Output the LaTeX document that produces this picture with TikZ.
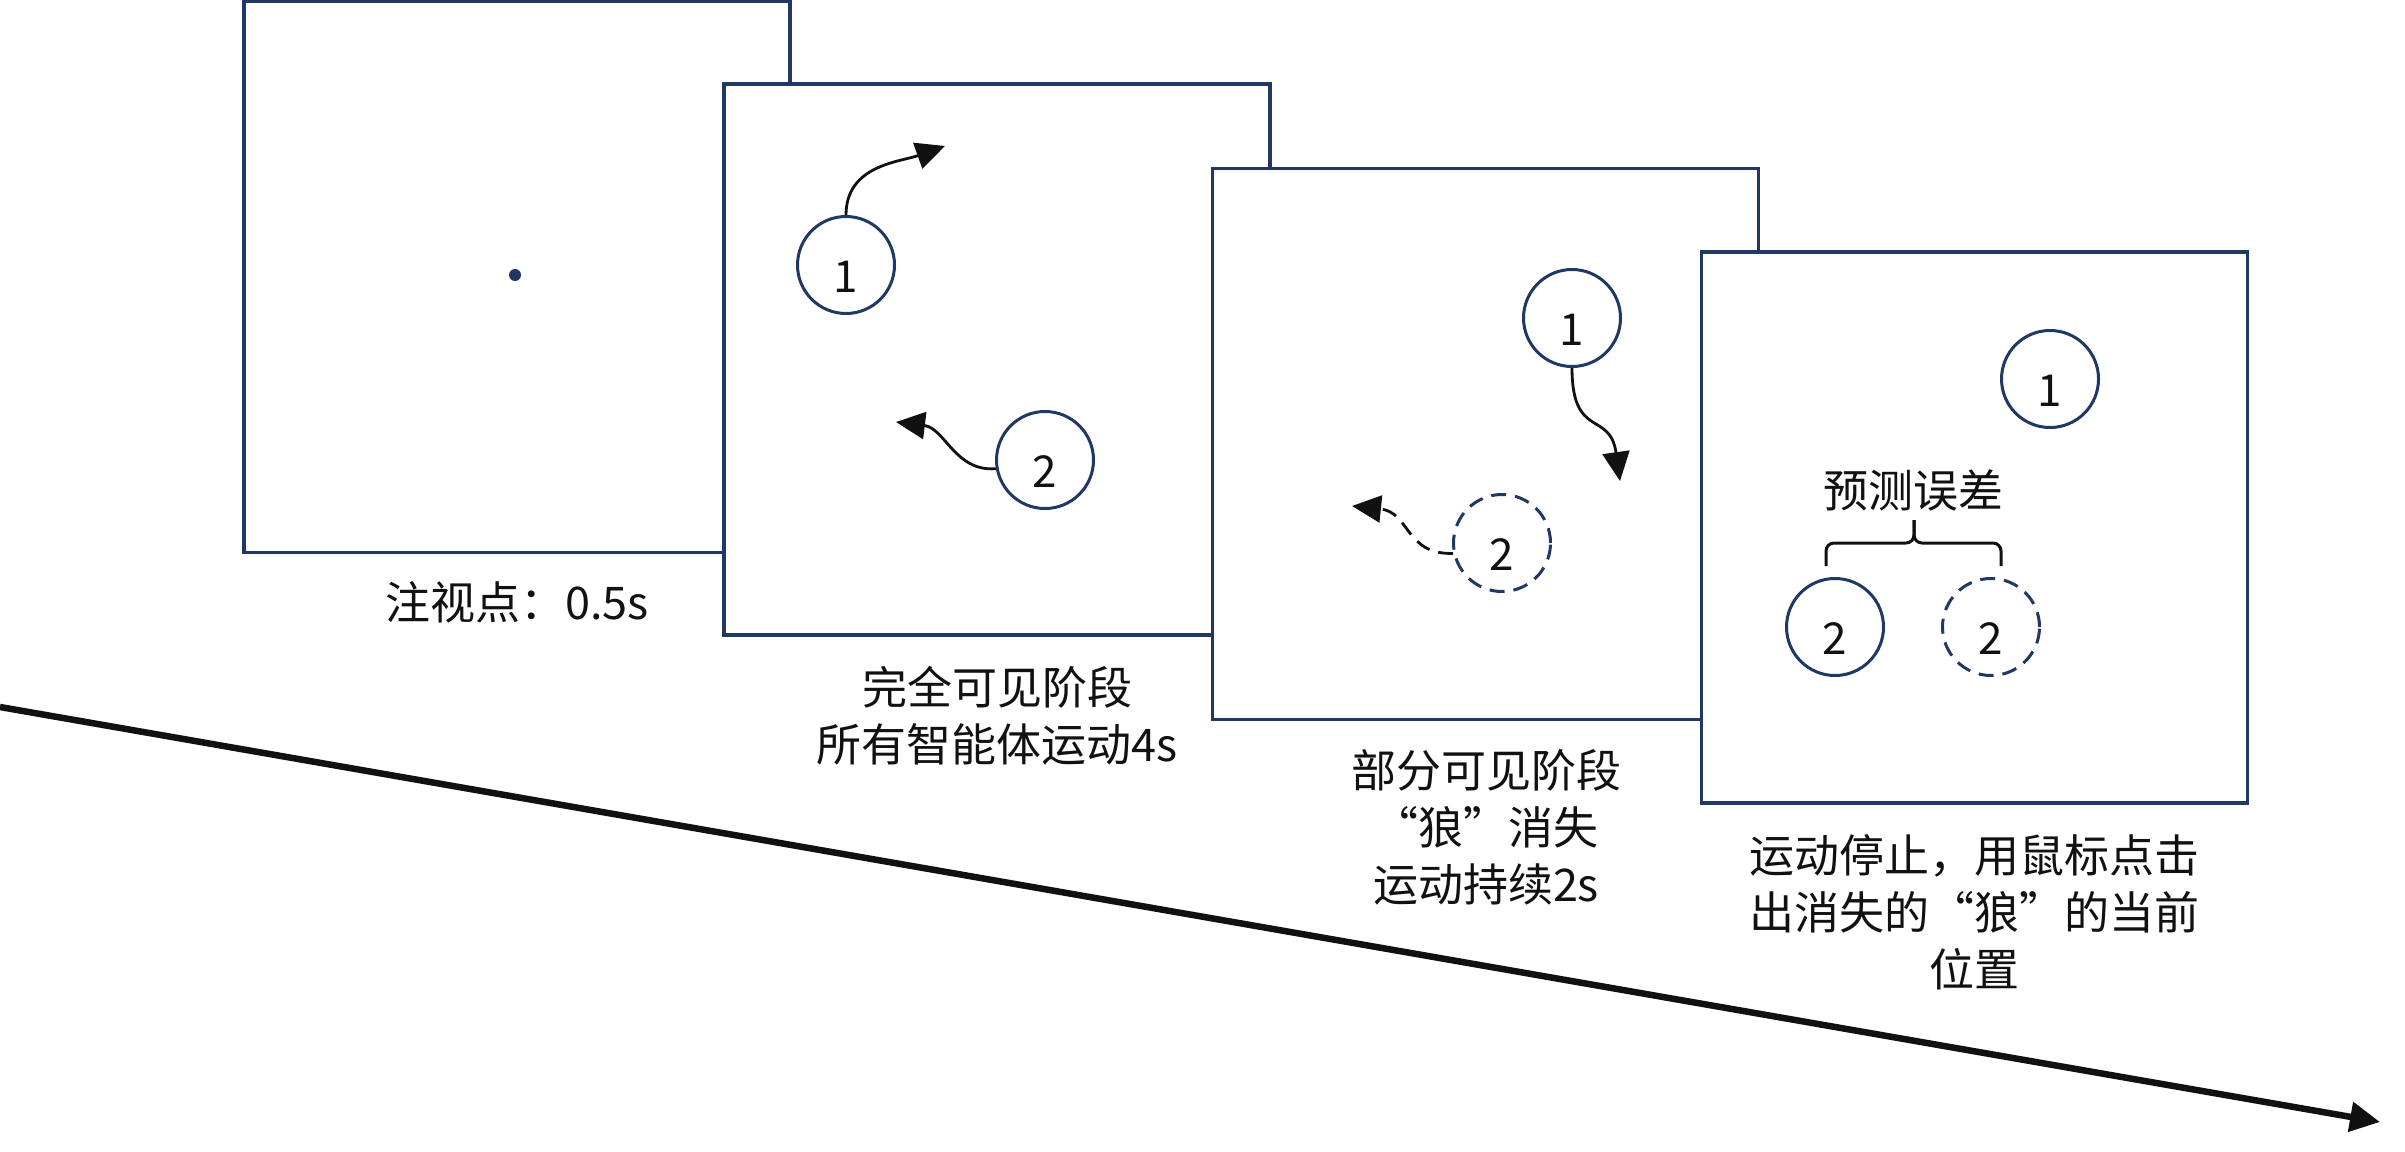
\documentclass[tikz,border=0pt]{standalone}
\usepackage{fontspec}
\setmainfont{Noto Sans CJK SC}
\usetikzlibrary{arrows.meta}
\definecolor{navy}{RGB}{31,56,100}
\definecolor{ink}{RGB}{17,17,17}
\begin{document}
\begin{tikzpicture}[x=1pt,y=-1pt,
  frame/.style={draw=navy,line width=3.2pt,fill=white,minimum width=546pt,minimum height=551pt,inner sep=0pt},
  agent/.style={circle,draw=navy,line width=3pt,fill=white,minimum size=97pt,inner sep=0pt,
     font=\fontsize{44}{44}\selectfont,text=ink,text height=54pt,text depth=0pt},
  ghost/.style={agent,dash pattern=on 15pt off 9pt},
  move/.style={draw=ink,line width=2.8pt,-{Triangle[length=29pt,width=27pt]}},
  ghostmove/.style={move,dash pattern=on 15pt off 9pt},
  stagetext/.style={font=\fontsize{45}{57}\selectfont,align=center,text=ink,inner sep=0pt},
  bracepath/.style={draw=ink,line width=3pt,rounded corners=8pt}
]
\useasboundingbox (0,0) rectangle (2405,1151);

% time axis
\coordinate (tA) at (0,707);
\coordinate (tB) at (2380,1122);
\draw[ink,line width=6.5pt,-{Triangle[length=30pt,width=29pt]}] (tA) -- (tB);

% stage 1: fixation
\node[frame] (f1) at (517,277) {};
\node[circle,fill=navy,inner sep=0pt,minimum size=12pt] (fix) at (515,275) {};
\node[stagetext] (lab1) at (517,602) {注视点：0.5s};

% stage 2: fully visible
\node[frame] (f2) at (997,359.5) {};
\node[agent] (a21) at (846,265) {1};
\node[agent] (a22) at (1045,460) {2};
\coordinate (e21) at (945,146);
\coordinate (e22) at (896,422);
\draw[move] (a21.north) .. controls +(0,-50) and +(-45,16) .. (e21);
\draw[move] (a22.190) .. controls (955,472) and (945,428) .. (e22);
\node[stagetext] (lab2) at (997,716) {完全可见阶段\\所有智能体运动4s};

% stage 3: partially visible
\node[frame] (f3) at (1485.5,444) {};
\node[agent] (a31) at (1572,318) {1};
\node[ghost] (a32) at (1502,543) {2};
\coordinate (e31) at (1620,481);
\coordinate (e32) at (1352,506);
\draw[move] (a31.south) .. controls (1572,440) and (1610,410) .. (e31);
\draw[ghostmove] (a32.192) .. controls (1405,555) and (1410,512) .. (e32);
\node[stagetext] (lab3) at (1486,827) {部分可见阶段\\“狼”消失\\运动持续2s};

% stage 4: response
\node[frame] (f4) at (1974.5,527.5) {};
\node[agent] (a41) at (2050,379) {1};
\node[agent] (a42) at (1835,627) {2};
\node[ghost] (a43) at (1991,627) {2};
\draw[bracepath] (1826,566) -- (1826,543) -- (1914,543) -- (1914,520);
\draw[bracepath] (2001,566) -- (2001,543) -- (1914,543) -- (1914,520);
\node[stagetext] (err) at (1913,490) {预测误差};
\node[stagetext] (lab4) at (1974,912) {运动停止，用鼠标点击\\出消失的“狼”的当前\\位置};
\end{tikzpicture}
\end{document}
